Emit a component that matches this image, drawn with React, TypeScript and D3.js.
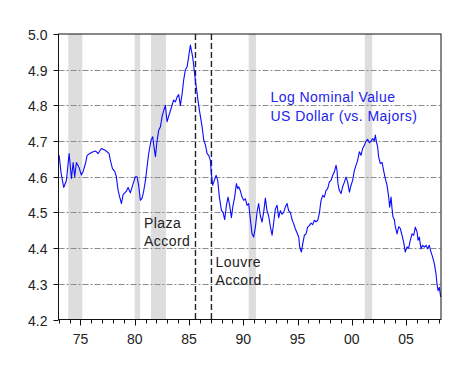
import { useEffect, useRef } from 'react';
import * as d3 from 'd3';

// decimal year of each observation
const DATES = [
  1973.04, 1973.22, 1973.46, 1973.71, 1973.96, 1974.17, 1974.33, 1974.47, 1974.63, 1974.88,
  1975.09, 1975.25, 1975.49, 1975.62, 1975.86, 1976.17, 1976.41, 1976.63, 1976.93, 1977.24,
  1977.46, 1977.64, 1977.76, 1977.95, 1978.16, 1978.31, 1978.47, 1978.62, 1978.78, 1978.93,
  1979.24, 1979.39, 1979.6, 1979.85, 1980.06, 1980.22, 1980.37, 1980.52, 1980.68, 1980.83,
  1980.99, 1981.14, 1981.29, 1981.51, 1981.66, 1981.75, 1981.91, 1982.06, 1982.21, 1982.37,
  1982.52, 1982.67, 1982.83, 1982.98, 1983.13, 1983.29, 1983.44, 1983.59, 1983.75, 1983.91,
  1984.05, 1984.21, 1984.37, 1984.51, 1984.67, 1984.83, 1984.97, 1985.13, 1985.22, 1985.34,
  1985.43, 1985.59, 1985.75, 1985.89, 1986.05, 1986.21, 1986.36, 1986.51, 1986.67, 1986.82,
  1986.97, 1987.06, 1987.18, 1987.34, 1987.5, 1987.65, 1987.8, 1987.99, 1988.14, 1988.29,
  1988.45, 1988.6, 1988.75, 1988.91, 1989.06, 1989.21, 1989.37, 1989.49, 1989.58, 1989.74,
  1989.89, 1990.04, 1990.2, 1990.35, 1990.5, 1990.66, 1990.81, 1990.96, 1991.12, 1991.27,
  1991.42, 1991.58, 1991.73, 1991.88, 1992.04, 1992.19, 1992.34, 1992.5, 1992.66, 1992.8,
  1992.96, 1993.12, 1993.26, 1993.42, 1993.58, 1993.72, 1993.88, 1994.04, 1994.18, 1994.34,
  1994.5, 1994.65, 1994.79, 1995.11, 1995.2, 1995.36, 1995.47, 1995.63, 1995.79, 1995.93,
  1996.09, 1996.25, 1996.4, 1996.55, 1996.71, 1996.86, 1997.01, 1997.17, 1997.32, 1997.47,
  1997.63, 1997.78, 1997.93, 1998.09, 1998.24, 1998.39, 1998.55, 1998.64, 1998.73, 1998.85,
  1999.01, 1999.16, 1999.32, 1999.47, 1999.62, 1999.78, 1999.93, 2000.08, 2000.24, 2000.39,
  2000.54, 2000.7, 2000.85, 2001.0, 2001.16, 2001.31, 2001.46, 2001.62, 2001.77, 2001.93,
  2002.08, 2002.17, 2002.26, 2002.38, 2002.47, 2002.63, 2002.79, 2002.93, 2003.09, 2003.25,
  2003.4, 2003.49, 2003.62, 2003.71, 2003.8, 2003.92, 2004.01, 2004.17, 2004.32, 2004.47,
  2004.63, 2004.78, 2004.93, 2005.09, 2005.24, 2005.39, 2005.55, 2005.7, 2005.86, 2006.02,
  2006.1, 2006.22, 2006.38, 2006.53, 2006.69, 2006.84, 2006.99, 2007.14, 2007.3, 2007.45,
  2007.61, 2007.76, 2007.85, 2007.95, 2008.07, 2008.15, 2008.2,
];

// log nominal value of the US dollar vs. majors
const VALUES = [
  4.66, 4.61, 4.57, 4.59, 4.665, 4.595, 4.64, 4.6, 4.64, 4.625,
  4.605, 4.615, 4.64, 4.66, 4.665, 4.67, 4.672, 4.665, 4.679, 4.675,
  4.67, 4.665, 4.646, 4.623, 4.615, 4.6, 4.562, 4.543, 4.525, 4.55,
  4.56, 4.57, 4.555, 4.58, 4.6, 4.6, 4.575, 4.534, 4.54, 4.56,
  4.59, 4.628, 4.665, 4.703, 4.712, 4.69, 4.656, 4.7, 4.73, 4.74,
  4.768, 4.785, 4.8, 4.754, 4.77, 4.785, 4.8, 4.815, 4.81, 4.824,
  4.83, 4.8, 4.833, 4.871, 4.9, 4.908, 4.936, 4.969, 4.955, 4.936,
  4.913, 4.87, 4.834, 4.8, 4.77, 4.74, 4.703, 4.69, 4.665, 4.66,
  4.646, 4.61, 4.576, 4.59, 4.604, 4.59, 4.543, 4.506, 4.5, 4.48,
  4.52, 4.543, 4.52, 4.485, 4.52, 4.543, 4.581, 4.567, 4.572, 4.56,
  4.543, 4.534, 4.538, 4.52, 4.525, 4.48, 4.44, 4.431, 4.459, 4.5,
  4.525, 4.49, 4.473, 4.5, 4.54, 4.505, 4.49, 4.46, 4.436, 4.47,
  4.51, 4.52, 4.485, 4.505, 4.495, 4.5, 4.515, 4.525, 4.505, 4.5,
  4.48, 4.468, 4.455, 4.431, 4.403, 4.389, 4.41, 4.436, 4.44, 4.459,
  4.463, 4.47, 4.466, 4.478, 4.474, 4.478, 4.497, 4.534, 4.548, 4.543,
  4.562, 4.567, 4.585, 4.59, 4.604, 4.613, 4.632, 4.618, 4.58, 4.562,
  4.553, 4.572, 4.585, 4.599, 4.585, 4.557, 4.576, 4.59, 4.618, 4.632,
  4.646, 4.67, 4.66, 4.679, 4.688, 4.7, 4.705, 4.695, 4.7, 4.707,
  4.7, 4.717, 4.7, 4.684, 4.656, 4.637, 4.64, 4.618, 4.595, 4.576,
  4.543, 4.515, 4.543, 4.51, 4.487, 4.48, 4.46, 4.44, 4.46, 4.455,
  4.436, 4.417, 4.389, 4.403, 4.4, 4.422, 4.44, 4.436, 4.459, 4.445,
  4.422, 4.431, 4.398, 4.408, 4.403, 4.408, 4.398, 4.408, 4.389, 4.375,
  4.356, 4.328, 4.3, 4.281, 4.29, 4.272, 4.263,
];

const REC_START = [1973.88, 1980.0, 1981.5, 1990.5, 2001.2];
const REC_END = [1975.17, 1980.5, 1982.88, 1991.17, 2001.88];

const Y_TICKS = [4.2, 4.3, 4.4, 4.5, 4.6, 4.7, 4.8, 4.9, 5.0];
const GRID_TICKS = [4.3, 4.4, 4.5, 4.6, 4.7, 4.8, 4.9];
const X_MAJOR = [1975, 1980, 1985, 1990, 1995, 2000, 2005];
const X_LABELS = ['75', '80', '85', '90', '95', '00', '05'];

const ACCORDS = [
  { date: 1985.6, lines: ['Plaza', 'Accord'] },
  { date: 1987.07, lines: ['Louvre', 'Accord'] },
];

const FONT = 'Liberation Sans, Arial, sans-serif';

export default function App() {
  const svgRef = useRef<SVGSVGElement>(null);

  useEffect(() => {
    if (!svgRef.current) return;
    const W = 474, H = 372;
    const L = 58.5, R = 441, T = 34, B = 319.5;
    const svg = d3.select(svgRef.current);
    svg.selectAll('*').remove();
    svg.attr('width', W).attr('height', H);

    const x = d3.scaleLinear().domain([1972.98, 2008.22]).range([L, R]);
    const y = d3.scaleLinear().domain([4.2, 5.0]).range([B, T]);

    // Recession shading
    REC_START.forEach((s, i) => {
      svg.append('rect')
        .attr('x', x(s)).attr('y', T)
        .attr('width', x(REC_END[i]) - x(s)).attr('height', B - T)
        .attr('fill', '#dddddd');
    });

    // Grid lines
    GRID_TICKS.forEach(t => {
      svg.append('line')
        .attr('x1', L).attr('x2', R)
        .attr('y1', Math.round(y(t)) + 0.5).attr('y2', Math.round(y(t)) + 0.5)
        .attr('stroke', '#8a8a8a').attr('stroke-width', 1)
        .attr('stroke-dasharray', '6,2,2,2');
    });

    // Accord markers
    ACCORDS.forEach(a => {
      svg.append('line')
        .attr('x1', x(a.date)).attr('x2', x(a.date))
        .attr('y1', T).attr('y2', B)
        .attr('stroke', '#222').attr('stroke-width', 1.4)
        .attr('stroke-dasharray', '6,3');
    });

    // Series
    const line = d3.line<number>()
      .x((_, i) => x(DATES[i]))
      .y(d => y(d));
    svg.append('path')
      .datum(VALUES)
      .attr('d', line)
      .attr('fill', 'none')
      .attr('stroke', '#0a0aff')
      .attr('stroke-width', 1.1)
      .attr('stroke-linejoin', 'round');

    // Frame
    svg.append('rect')
      .attr('x', L).attr('y', T).attr('width', R - L).attr('height', B - T)
      .attr('fill', 'none').attr('stroke', '#111').attr('stroke-width', 1);

    // Y axis
    Y_TICKS.forEach(t => {
      const yy = Math.round(y(t)) + 0.5;
      svg.append('line')
        .attr('x1', L - 5).attr('x2', L).attr('y1', yy).attr('y2', yy)
        .attr('stroke', '#111');
      svg.append('text')
        .attr('x', L - 11).attr('y', yy + 5)
        .attr('text-anchor', 'end').attr('font-family', FONT).attr('font-size', 14)
        .attr('fill', '#222').text(t.toFixed(1));
    });

    // X axis
    d3.range(1973, 2009).forEach(yr => {
      const major = X_MAJOR.includes(yr);
      const xx = Math.round(x(yr)) + 0.5;
      svg.append('line')
        .attr('x1', xx).attr('x2', xx).attr('y1', B).attr('y2', B + (major ? 6 : 4))
        .attr('stroke', '#111');
    });
    X_MAJOR.forEach((yr, i) => {
      svg.append('text')
        .attr('x', x(yr)).attr('y', B + 24)
        .attr('text-anchor', 'middle').attr('font-family', FONT).attr('font-size', 14)
        .attr('fill', '#222').text(X_LABELS[i]);
    });

    // Annotations
    const note = (color: string) => svg.append('text')
      .attr('font-family', FONT).attr('font-size', 14).attr('letter-spacing', 0.45).attr('fill', color);
    const plaza = note('#222');
    plaza.append('tspan').attr('x', 144).attr('y', 228).text(ACCORDS[0].lines[0]);
    plaza.append('tspan').attr('x', 144).attr('y', 246).text(ACCORDS[0].lines[1]);
    const louvre = note('#222');
    louvre.append('tspan').attr('x', 215.5).attr('y', 267).text(ACCORDS[1].lines[0]);
    louvre.append('tspan').attr('x', 215.5).attr('y', 284.5).text(ACCORDS[1].lines[1]);

    const title = note('#2222ee');
    title.append('tspan').attr('x', 270.5).attr('y', 102).text('Log Nominal Value');
    title.append('tspan').attr('x', 270.5).attr('y', 120.5).text('US Dollar (vs. Majors)');
  }, []);

  return (
    <div style={{ position: 'absolute', left: 0, top: 0, width: 474, height: 372, background: '#fff' }}>
      <svg ref={svgRef} style={{ display: 'block' }} />
    </div>
  );
}
